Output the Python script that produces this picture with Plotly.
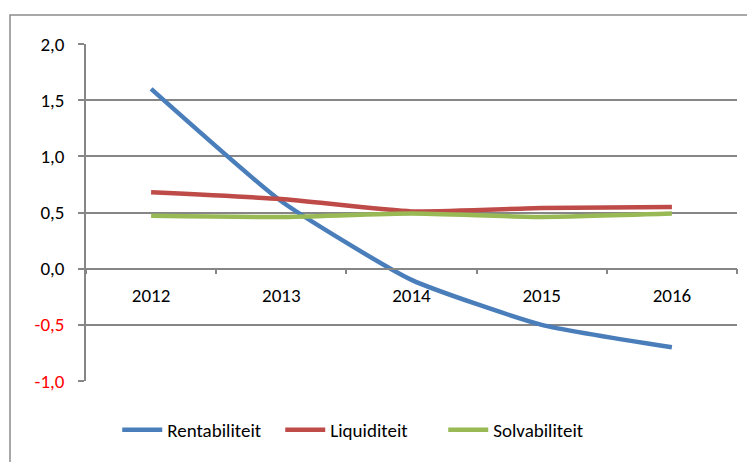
import plotly.graph_objects as go

years = ["2012", "2013", "2014", "2015", "2016"]
rentabiliteit = [1.60, 0.60, -0.10, -0.50, -0.70]
liquiditeit = [0.68, 0.62, 0.51, 0.54, 0.55]
solvabiliteit = [0.47, 0.46, 0.49, 0.46, 0.49]
series_names = ["Rentabiliteit", "Liquiditeit", "Solvabiliteit"]
colors = ["#4A7EBB", "#BE4B48", "#98B954"]
y_ticks = [-1.0, -0.5, 0.0, 0.5, 1.0, 1.5, 2.0]
y_tick_labels = ["-1,0", "-0,5", "0,0", "0,5", "1,0", "1,5", "2,0"]

FONT = "Carlito, Calibri, Lato, sans-serif"
FS = 19

fig = go.Figure()
for name, vals, col in zip(series_names, [rentabiliteit, liquiditeit, solvabiliteit], colors):
    fig.add_trace(go.Scatter(
        x=years, y=vals, name=name, mode="lines",
        line=dict(color=col, width=4.5, shape="spline", smoothing=0.5),
    ))

ticktext = [
    f'<span style="color:#FF0000">{t}</span>' if v < 0 else t
    for v, t in zip(y_ticks, y_tick_labels)
]

fig.update_layout(
    width=755, height=462,
    margin=dict(l=78, r=26, t=36, b=89),
    paper_bgcolor="white", plot_bgcolor="white",
    font=dict(family=FONT, size=FS, color="#000000"),
    showlegend=True,
    legend=dict(
        orientation="h", x=0.048, xanchor="left", y=-0.145, yanchor="middle",
        font=dict(family=FONT, size=FS, color="#000000"),
        entrywidth=108, entrywidthmode="pixels",
        itemwidth=40, tracegroupgap=0,
    ),
    xaxis=dict(
        type="category", range=[-0.5, 4.5],
        anchor="free", position=1/3,
        showline=True, linecolor="#868686", linewidth=1.5,
        ticks="outside", tickson="boundaries", ticklen=5, tickcolor="#868686", tickwidth=1.5,
        showgrid=False, zeroline=False,
        ticklabelstandoff=10,
        tickfont=dict(family=FONT, size=FS, color="#000000"),
    ),
    yaxis=dict(
        range=[-1.0, 2.0], tickvals=y_ticks, ticktext=ticktext,
        showline=True, linecolor="#868686", linewidth=1.5,
        ticks="outside", ticklen=6, tickcolor="#868686", tickwidth=1.5,
        showgrid=True, gridcolor="#868686", gridwidth=1.5,
        zeroline=False,
        ticklabelstandoff=10,
        tickfont=dict(family=FONT, size=FS, color="#000000"),
    ),
)

fig.add_shape(
    type="rect", xref="paper", yref="paper",
    x0=(10 - 86) / 651, x1=1.1, y0=-0.3, y1=(381 - 15) / 337,
    line=dict(color="#8C8C8C", width=1.5), fillcolor="rgba(0,0,0,0)", layer="below",
)

fig.write_html("out.html")
